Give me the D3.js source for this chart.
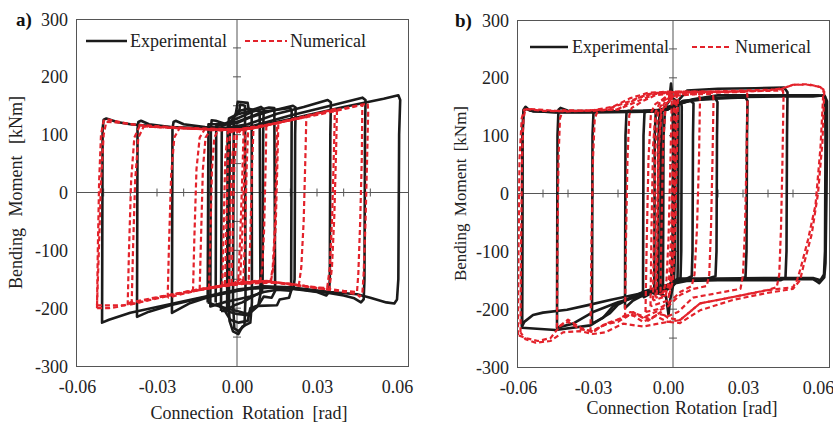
<!DOCTYPE html>
<html><head><meta charset="utf-8">
<script src="https://cdn.jsdelivr.net/npm/d3@7"></script>
<style>
html,body{margin:0;padding:0;background:#fff;}
svg{display:block;font-family:"Liberation Serif","Times New Roman",serif;}
</style></head><body>
<svg id="c" width="833" height="423"></svg>
<script>
// ---------- tick values / labels ----------
const xTicks = [-0.06, -0.03, 0, 0.03, 0.06];
const yTicks = [-300, -200, -100, 0, 100, 200, 300];
const xMinorTicks = [-0.05, -0.04, -0.03, -0.02, -0.01, 0.01, 0.02, 0.03, 0.04, 0.05];
const yMinorTicks = [-250, -200, -150, -100, -50, 50, 100, 150, 200, 250];
const panelLabels = ["a)", "b)"];
const legendLabels = ["Experimental", "Numerical"];
const xTitle = "Connection Rotation [rad]";
const yTitle = "Bending Moment [kNm]";

// ---------- panel a: experimental loops [rotation, moment] ----------
const expA = [
 [[-0.0015,-190],[-0.0012,130],[0.0008,140],[0.0012,152],[0.0030,150],[0.0032,-180],[0.0028,-230],[0.0005,-240],[-0.0010,-235],[-0.0015,-190]],
 [[-0.0030,-200],[-0.0027,120],[-0.0005,135],[0.0003,157],[0.0040,155],[0.0045,140],[0.0055,138],[0.0056,-190],[0.0050,-225],[0.0020,-232],[0.0005,-245],[-0.0015,-240],[-0.0028,-222],[-0.0030,-200]],
 [[-0.0060,-205],[-0.0057,115],[-0.0020,122],[0.0000,140],[0.0040,145],[0.0060,143],[0.0085,140],[0.0088,-175],[0.0080,-195],[0.0050,-200],[0.0040,-222],[0.0005,-225],[-0.0025,-220],[-0.0045,-205],[-0.0060,-205]],
 [[-0.0110,-190],[-0.0107,118],[-0.0050,118],[0.0000,128],[0.0060,140],[0.0120,147],[0.0140,146],[0.0143,-170],[0.0130,-182],[0.0100,-180],[0.0080,-195],[0.0040,-210],[0.0000,-205],[-0.0040,-200],[-0.0080,-195],[-0.0110,-190]],
 [[-0.0080,-190],[-0.0078,115],[0.0000,122],[0.0100,140],[0.0200,146],[0.0205,140],[0.0203,-170],[0.0195,-182],[0.0160,-185],[0.0150,-195],[0.0080,-196],[0.0040,-212],[0.0000,-210],[-0.0040,-205],[-0.0080,-192]],
 [[-0.0037,-200],[-0.0035,110],[-0.0030,128],[0.0000,135],[0.0040,140],[0.0090,148],[0.0100,144],[0.0098,100],[0.0096,-150],[0.0094,-170],[0.0080,-175],[0.0050,-182],[0.0020,-190],[-0.0010,-195],[-0.0037,-202],[-0.0037,-200]],
 [[-0.0100,-195],[-0.0098,110],[-0.0095,125],[-0.0080,124],[-0.0040,118],[0.0000,120],[0.0050,130],[0.0120,140],[0.0210,150],[0.0220,147],[0.0218,100],[0.0216,-150],[0.0212,-165],[0.0200,-170],[0.0150,-168],[0.0100,-172],[0.0050,-180],[0.0000,-185],[-0.0050,-190],[-0.0100,-197],[-0.0100,-195]],
 [[-0.0244,-207],[-0.0242,110],[-0.0238,122],[-0.0230,124],[-0.0200,118],[-0.0120,113],[-0.0040,112],[0.0040,118],[0.0150,136],[0.0250,148],[0.0340,160],[0.0352,156],[0.0350,100],[0.0348,-150],[0.0345,-172],[0.0335,-178],[0.0300,-172],[0.0200,-166],[0.0100,-163],[0.0000,-170],[-0.0100,-180],[-0.0180,-192],[-0.0244,-208],[-0.0244,-207]],
 [[-0.0375,-212],[-0.0373,110],[-0.0370,122],[-0.0360,124],[-0.0330,118],[-0.0250,113],[-0.0150,111],[-0.0050,110],[0.0050,114],[0.0200,133],[0.0350,150],[0.0470,164],[0.0482,160],[0.0480,100],[0.0478,-150],[0.0475,-185],[0.0465,-190],[0.0440,-183],[0.0400,-178],[0.0350,-174],[0.0250,-168],[0.0150,-164],[0.0050,-166],[-0.0050,-174],[-0.0150,-184],[-0.0250,-195],[-0.0330,-206],[-0.0375,-215],[-0.0375,-212]],
 [[-0.0506,-222],[-0.0504,110],[-0.0500,126],[-0.0490,128],[-0.0450,122],[-0.0400,118],[-0.0300,114],[-0.0200,112],[-0.0100,110],[0.0000,110],[0.0050,112],[0.0200,127],[0.0400,148],[0.0550,162],[0.0605,168],[0.0612,160],[0.0608,100],[0.0605,-150],[0.0600,-185],[0.0590,-192],[0.0560,-190],[0.0500,-182],[0.0450,-176],[0.0350,-172],[0.0200,-164],[0.0100,-162],[0.0000,-168],[-0.0100,-178],[-0.0200,-188],[-0.0300,-198],[-0.0400,-208],[-0.0480,-220],[-0.0506,-225],[-0.0506,-222]]
];

// ---------- panel a: numerical loops ----------
const numA = [
 [[-0.0020,-158],[-0.0016,-60],[-0.0010,50],[0.0000,100],[0.0015,108],[0.0025,110],[0.0020,30],[0.0012,-80],[0.0005,-150],[-0.0010,-157],[-0.0020,-158]],
 [[-0.0030,-158],[-0.0026,-60],[-0.0020,50],[-0.0010,100],[0.0010,108],[0.0032,110],[0.0027,30],[0.0019,-80],[0.0012,-150],[-0.0010,-157],[-0.0030,-158]],
 [[-0.0045,-160],[-0.0040,-60],[-0.0034,60],[-0.0025,104],[0.0000,108],[0.0030,110],[0.0042,112],[0.0036,40],[0.0030,-80],[0.0024,-150],[0.0000,-157],[-0.0045,-160]],
 [[-0.0055,-162],[-0.0050,-60],[-0.0044,60],[-0.0034,104],[0.0000,108],[0.0050,111],[0.0062,113],[0.0056,40],[0.0050,-80],[0.0044,-150],[0.0000,-157],[-0.0055,-162]],
 [[-0.0105,-166],[-0.0100,-80],[-0.0094,40],[-0.0085,95],[-0.0070,108],[-0.0030,108],[0.0020,109],[0.0070,112],[0.0110,116],[0.0108,60],[0.0102,-60],[0.0095,-130],[0.0088,-152],[0.0050,-154],[0.0000,-157],[-0.0050,-161],[-0.0105,-166]],
 [[-0.0140,-168],[-0.0135,-80],[-0.0128,40],[-0.0118,95],[-0.0100,108],[-0.0050,108],[0.0020,109],[0.0080,113],[0.0150,120],[0.0148,60],[0.0142,-60],[0.0134,-130],[0.0126,-153],[0.0080,-154],[0.0000,-157],[-0.0070,-163],[-0.0140,-168]],
 [[-0.0165,-171],[-0.0160,-80],[-0.0152,40],[-0.0140,95],[-0.0120,110],[-0.0060,108],[0.0020,109],[0.0100,115],[0.0155,121],[0.0152,60],[0.0145,-60],[0.0136,-130],[0.0128,-152],[0.0080,-154],[0.0000,-157],[-0.0080,-164],[-0.0165,-171]],
 [[-0.0260,-182],[-0.0255,-90],[-0.0247,30],[-0.0235,95],[-0.0215,112],[-0.0150,110],[-0.0050,108],[0.0050,110],[0.0150,120],[0.0260,131],[0.0257,70],[0.0250,-50],[0.0241,-130],[0.0232,-160],[0.0200,-158],[0.0100,-153],[0.0000,-157],[-0.0100,-164],[-0.0200,-175],[-0.0260,-182]],
 [[-0.0410,-195],[-0.0405,-100],[-0.0397,20],[-0.0385,95],[-0.0365,115],[-0.0300,113],[-0.0200,111],[-0.0100,109],[0.0000,108],[0.0100,115],[0.0250,130],[0.0367,144],[0.0364,80],[0.0357,-40],[0.0348,-130],[0.0338,-165],[0.0300,-165],[0.0200,-158],[0.0100,-153],[0.0000,-157],[-0.0150,-168],[-0.0300,-182],[-0.0410,-195]],
 [[-0.0395,-193],[-0.0390,-100],[-0.0382,20],[-0.0370,95],[-0.0350,114],[-0.0250,112],[-0.0100,109],[0.0050,110],[0.0200,126],[0.0375,145],[0.0372,80],[0.0365,-40],[0.0356,-130],[0.0346,-168],[0.0250,-162],[0.0100,-154],[-0.0100,-165],[-0.0250,-178],[-0.0395,-193]],
 [[-0.0525,-200],[-0.0522,-100],[-0.0517,20],[-0.0510,100],[-0.0500,124],[-0.0490,127],[-0.0450,123],[-0.0400,118],[-0.0300,114],[-0.0200,111],[-0.0100,109],[0.0000,108],[0.0050,110],[0.0100,115],[0.0200,125],[0.0300,134],[0.0400,144],[0.0490,154],[0.0492,140],[0.0488,60],[0.0482,-50],[0.0475,-140],[0.0470,-175],[0.0460,-180],[0.0450,-176],[0.0400,-172],[0.0300,-165],[0.0200,-158],[0.0100,-153],[0.0000,-157],[-0.0100,-164],[-0.0200,-173],[-0.0300,-182],[-0.0400,-192],[-0.0450,-198],[-0.0480,-200],[-0.0525,-200]],
 [[-0.0525,-195],[-0.0518,-100],[-0.0510,20],[-0.0500,100],[-0.0490,122],[-0.0450,121],[-0.0350,116],[-0.0200,112],[0.0000,109],[0.0150,120],[0.0300,136],[0.0470,152],[0.0468,60],[0.0462,-50],[0.0455,-140],[0.0450,-172],[0.0400,-170],[0.0300,-164],[0.0150,-156],[0.0000,-158],[-0.0150,-168],[-0.0300,-181],[-0.0400,-190],[-0.0420,-195],[-0.0525,-195]]
];

// ---------- panel b: experimental loops ----------
const expB = [
 [[-0.0020,-165],[-0.0018,100],[-0.0012,145],[0.0000,150],[0.0018,152],[0.0020,100],[0.0018,-100],[0.0012,-155],[0.0000,-165],[-0.0020,-165]],
 [[-0.0030,-168],[-0.0028,100],[-0.0024,142],[0.0000,148],[0.0028,155],[0.0030,100],[0.0028,-100],[0.0024,-152],[0.0000,-163],[-0.0030,-168]],
 [[-0.0040,-172],[-0.0038,100],[-0.0034,140],[-0.0020,145],[0.0005,160],[0.0012,190],[0.0018,165],[0.0040,158],[0.0042,150],[0.0040,-100],[0.0038,-150],[0.0020,-160],[0.0008,-185],[0.0002,-210],[-0.0008,-178],[-0.0040,-172]],
 [[-0.0055,-175],[-0.0053,100],[-0.0049,140],[-0.0020,144],[0.0010,150],[0.0052,158],[0.0055,150],[0.0053,-100],[0.0050,-148],[0.0020,-155],[0.0000,-165],[-0.0055,-175]],
 [[-0.0100,-180],[-0.0098,100],[-0.0094,140],[-0.0080,142],[-0.0040,143],[0.0000,146],[0.0040,155],[0.0090,160],[0.0102,156],[0.0100,100],[0.0098,-100],[0.0095,-143],[0.0070,-148],[0.0030,-152],[0.0000,-160],[-0.0040,-166],[-0.0100,-180]],
 [[-0.0172,-195],[-0.0170,100],[-0.0166,140],[-0.0160,143],[-0.0100,142],[-0.0030,143],[0.0020,152],[0.0080,160],[0.0150,163],[0.0190,164],[0.0198,158],[0.0196,100],[0.0194,-100],[0.0190,-143],[0.0160,-147],[0.0080,-150],[0.0030,-152],[0.0000,-160],[-0.0050,-168],[-0.0100,-176],[-0.0140,-185],[-0.0172,-198],[-0.0172,-195]],
 [[-0.0304,-222],[-0.0302,100],[-0.0298,140],[-0.0290,144],[-0.0250,142],[-0.0150,142],[-0.0050,143],[0.0020,150],[0.0060,160],[0.0150,163],[0.0250,165],[0.0310,166],[0.0318,160],[0.0316,100],[0.0314,-100],[0.0310,-145],[0.0280,-148],[0.0150,-149],[0.0050,-150],[0.0000,-158],[-0.0080,-168],[-0.0150,-180],[-0.0220,-195],[-0.0260,-215],[-0.0304,-225],[-0.0304,-222]],
 [[-0.0444,-225],[-0.0442,100],[-0.0438,145],[-0.0430,148],[-0.0400,143],[-0.0300,142],[-0.0200,142],[-0.0100,143],[0.0000,145],[0.0040,160],[0.0076,178],[0.0200,181],[0.0350,182],[0.0465,183],[0.0478,175],[0.0476,100],[0.0474,-100],[0.0470,-145],[0.0450,-150],[0.0350,-150],[0.0200,-150],[0.0080,-151],[0.0030,-155],[0.0000,-165],[-0.0100,-176],[-0.0200,-188],[-0.0300,-205],[-0.0380,-225],[-0.0444,-232],[-0.0444,-225]],
 [[-0.0584,-230],[-0.0582,100],[-0.0578,145],[-0.0570,150],[-0.0560,146],[-0.0540,142],[-0.0450,141],[-0.0350,141],[-0.0250,142],[-0.0150,142],[-0.0050,143],[0.0020,148],[0.0060,160],[0.0150,165],[0.0300,167],[0.0450,168],[0.0580,168],[0.0625,170],[0.0636,160],[0.0636,100],[0.0634,0],[0.0630,-120],[0.0625,-145],[0.0605,-155],[0.0595,-152],[0.0580,-148],[0.0450,-148],[0.0300,-148],[0.0150,-149],[0.0050,-150],[0.0000,-161],[-0.0100,-172],[-0.0232,-184],[-0.0320,-193],[-0.0404,-201],[-0.0500,-206],[-0.0540,-210],[-0.0575,-222],[-0.0584,-230]],
 [[-0.0584,-226],[-0.0582,100],[-0.0578,142],[-0.0568,147],[-0.0550,143],[-0.0450,140],[-0.0300,140],[-0.0150,141],[-0.0030,142],[0.0030,152],[0.0100,163],[0.0200,170],[0.0350,170],[0.0500,170],[0.0600,170],[0.0628,168],[0.0630,100],[0.0628,-100],[0.0624,-140],[0.0610,-150],[0.0580,-146],[0.0400,-146],[0.0200,-147],[0.0040,-147],[0.0000,-158],[-0.0100,-170],[-0.0200,-192],[-0.0232,-207],[-0.0310,-228],[-0.0450,-236],[-0.0584,-232],[-0.0584,-226]]
];

// ---------- panel b: numerical loops ----------
const numB = [
 [[-0.0030,-170],[-0.0026,-60],[-0.0020,80],[-0.0010,150],[0.0000,160],[0.0020,165],[0.0030,160],[0.0025,60],[0.0018,-80],[0.0010,-150],[0.0000,-168],[-0.0030,-170]],
 [[-0.0045,-175],[-0.0042,-60],[-0.0036,80],[-0.0026,140],[-0.0010,155],[0.0015,162],[0.0010,60],[0.0002,-80],[-0.0006,-150],[-0.0020,-172],[-0.0045,-175]],
 [[-0.0050,-180],[-0.0045,-60],[-0.0038,80],[-0.0028,145],[-0.0010,160],[0.0010,168],[0.0040,170],[0.0035,60],[0.0028,-80],[0.0020,-150],[0.0005,-175],[-0.0050,-180]],
 [[-0.0060,-185],[-0.0056,-60],[-0.0050,80],[-0.0040,140],[-0.0020,160],[0.0000,165],[0.0025,168],[0.0020,60],[0.0012,-80],[0.0004,-150],[-0.0010,-178],[-0.0060,-185]],
 [[-0.0070,-195],[-0.0066,-60],[-0.0060,80],[-0.0050,140],[-0.0030,160],[0.0000,170],[0.0035,172],[0.0030,60],[0.0022,-80],[0.0014,-150],[0.0000,-185],[-0.0070,-195]],
 [[-0.0090,-205],[-0.0085,-80],[-0.0078,60],[-0.0068,140],[-0.0050,155],[0.0000,168],[0.0060,170],[0.0120,172],[0.0128,165],[0.0124,60],[0.0116,-60],[0.0106,-140],[0.0095,-160],[0.0050,-170],[0.0000,-190],[-0.0040,-200],[-0.0090,-205]],
 [[-0.0172,-215],[-0.0168,-80],[-0.0162,60],[-0.0155,135],[-0.0145,148],[-0.0100,160],[-0.0050,170],[0.0000,172],[0.0080,172],[0.0180,172],[0.0182,160],[0.0178,60],[0.0172,-60],[0.0165,-140],[0.0155,-160],[0.0100,-165],[0.0050,-175],[0.0000,-195],[-0.0050,-205],[-0.0100,-215],[-0.0140,-205],[-0.0172,-215]],
 [[-0.0310,-240],[-0.0306,-80],[-0.0300,60],[-0.0293,130],[-0.0280,144],[-0.0200,145],[-0.0120,160],[-0.0050,172],[0.0020,175],[0.0150,174],[0.0250,175],[0.0316,176],[0.0318,165],[0.0314,60],[0.0308,-60],[0.0300,-140],[0.0290,-165],[0.0200,-172],[0.0100,-180],[0.0040,-205],[0.0000,-212],[-0.0040,-208],[-0.0080,-220],[-0.0120,-210],[-0.0170,-212],[-0.0220,-222],[-0.0270,-230],[-0.0310,-240]],
 [[-0.0444,-232],[-0.0442,-80],[-0.0438,60],[-0.0432,130],[-0.0420,144],[-0.0300,143],[-0.0200,146],[-0.0120,165],[-0.0050,174],[0.0050,176],[0.0200,176],[0.0350,177],[0.0460,178],[0.0462,165],[0.0458,60],[0.0452,-60],[0.0445,-140],[0.0435,-162],[0.0396,-167],[0.0260,-179],[0.0128,-190],[0.0048,-219],[0.0000,-222],[-0.0050,-212],[-0.0100,-222],[-0.0150,-208],[-0.0200,-222],[-0.0250,-226],[-0.0300,-238],[-0.0350,-235],[-0.0400,-222],[-0.0444,-232]],
 [[-0.0600,-245],[-0.0598,-100],[-0.0594,60],[-0.0585,130],[-0.0575,145],[-0.0550,146],[-0.0450,143],[-0.0350,143],[-0.0250,145],[-0.0150,160],[-0.0080,172],[0.0000,175],[0.0100,175],[0.0250,176],[0.0400,178],[0.0460,182],[0.0500,188],[0.0560,188],[0.0600,185],[0.0622,180],[0.0610,80],[0.0590,-20],[0.0560,-80],[0.0530,-130],[0.0516,-150],[0.0500,-162],[0.0400,-167],[0.0260,-179],[0.0128,-190],[0.0048,-219],[0.0000,-215],[-0.0030,-205],[-0.0070,-218],[-0.0100,-212],[-0.0150,-205],[-0.0200,-218],[-0.0250,-225],[-0.0300,-240],[-0.0350,-232],[-0.0400,-218],[-0.0430,-228],[-0.0470,-250],[-0.0520,-255],[-0.0570,-250],[-0.0600,-245]],
 [[-0.0590,-240],[-0.0588,-100],[-0.0584,60],[-0.0578,130],[-0.0570,146],[-0.0500,143],[-0.0400,142],[-0.0300,144],[-0.0220,150],[-0.0150,165],[-0.0080,174],[0.0000,176],[0.0150,176],[0.0300,178],[0.0450,180],[0.0500,188],[0.0560,189],[0.0610,184],[0.0625,176],[0.0618,90],[0.0600,0],[0.0575,-70],[0.0545,-120],[0.0528,-150],[0.0500,-165],[0.0396,-172],[0.0260,-184],[0.0128,-202],[0.0048,-224],[0.0000,-222],[-0.0050,-226],[-0.0100,-230],[-0.0180,-225],[-0.0250,-240],[-0.0300,-243],[-0.0350,-238],[-0.0420,-240],[-0.0470,-255],[-0.0530,-258],[-0.0570,-252],[-0.0590,-240]]
];

// ---------- drawing ----------
const svg = d3.select("#c");
const BLACK = "#1b1b1b", RED = "#e3222b", AXIS = "#555";

const panels = [
  { key: "a", exp: expA, num: numA,
    x: d3.scaleLinear().domain([-0.06, 0.0645]).range([77, 409]),
    y: d3.scaleLinear().domain([-300, 300]).range([366, 19]),
    vAxisAt: 0,
    label: { x: 16, y: 26 },
    yTitle: { x: 22, ws: 7, fs: 18 },
    xTitle: { y: 419, ws: 4, fs: 18, dx: 6 },
    legend: { y: 41, bx0: 86, bx1: 127, bt: 130, rx0: 245, rx1: 287, rt: 290 } },
  { key: "b", exp: expB, num: numB,
    x: d3.scaleLinear().domain([-0.06, 0.0648]).range([518, 830]),
    y: d3.scaleLinear().domain([-300, 300]).range([367, 20]),
    vAxisAt: 0.002,
    label: { x: 455, y: 27 },
    yTitle: { x: 466, ws: 3, fs: 17 },
    xTitle: { y: 414, ws: 1, fs: 18, dx: 8 },
    legend: { y: 47, bx0: 530, bx1: 568, bt: 572, rx0: 692, rx1: 732, rt: 735 } }
];

panels.forEach((p, i) => {
  const g = svg.append("g");
  const [x0, x1] = p.x.range();
  const [y0, y1] = p.y.range();

  g.append("rect").attr("x", x0 - 0.5).attr("y", y1 + 0.5).attr("width", x1 - x0)
    .attr("height", y0 - y1).attr("fill", "none").attr("stroke", AXIS).attr("stroke-width", 1);

  const zy = p.y(0), zx = p.x(p.vAxisAt);
  g.append("line").attr("x1", x0).attr("x2", x1).attr("y1", zy).attr("y2", zy)
    .attr("stroke", AXIS).attr("stroke-width", 1);
  g.append("line").attr("x1", zx).attr("x2", zx).attr("y1", y1).attr("y2", y0)
    .attr("stroke", AXIS).attr("stroke-width", 1);
  g.selectAll(".xm").data(xMinorTicks).join("line")
    .attr("x1", d => p.x(d)).attr("x2", d => p.x(d)).attr("y1", zy - 4).attr("y2", zy + 4)
    .attr("stroke", AXIS).attr("stroke-width", 1);
  g.selectAll(".ym").data(yMinorTicks).join("line")
    .attr("x1", zx - 4).attr("x2", zx + 4).attr("y1", d => p.y(d)).attr("y2", d => p.y(d))
    .attr("stroke", AXIS).attr("stroke-width", 1);

  const ax = g.append("g").attr("transform", `translate(0,${y0})`)
    .call(d3.axisBottom(p.x).tickValues(xTicks).tickSize(0).tickPadding(0).tickFormat(d => d.toFixed(2)));
  ax.select(".domain").remove();
  ax.selectAll("text").attr("y", 0).attr("dy", 27).attr("fill", "#222")
    .attr("font-size", 18).attr("font-family", "Liberation Serif, serif");

  const ay = g.append("g").attr("transform", `translate(${x0},0)`)
    .call(d3.axisLeft(p.y).tickValues(yTicks).tickSize(0).tickPadding(9).tickFormat(d => String(d)));
  ay.select(".domain").remove();
  ay.selectAll("text").attr("dy", "0.34em").attr("fill", "#222")
    .attr("font-size", 18).attr("font-family", "Liberation Serif, serif");

  const line = d3.line().x(d => p.x(d[0])).y(d => p.y(d[1]));
  const clip = "clip" + p.key;
  svg.append("clipPath").attr("id", clip).append("rect")
    .attr("x", x0).attr("y", y1).attr("width", x1 - x0).attr("height", y0 - y1);
  const dg = g.append("g").attr("clip-path", `url(#${clip})`);
  dg.selectAll(".exp").data(p.exp).join("path")
    .attr("d", line).attr("fill", "none").attr("stroke", BLACK)
    .attr("stroke-width", 2.6).attr("stroke-linejoin", "round");
  dg.selectAll(".num").data(p.num).join("path")
    .attr("d", line).attr("fill", "none").attr("stroke", RED)
    .attr("stroke-width", 2.2).attr("stroke-dasharray", "5,3").attr("stroke-linejoin", "round");

  const L = p.legend;
  g.append("line").attr("x1", L.bx0).attr("x2", L.bx1).attr("y1", L.y).attr("y2", L.y)
    .attr("stroke", BLACK).attr("stroke-width", 2.4);
  g.append("text").attr("x", L.bt).attr("y", L.y + 6).attr("font-size", 18).attr("fill", "#222")
    .text(legendLabels[0]);
  g.append("line").attr("x1", L.rx0).attr("x2", L.rx1).attr("y1", L.y).attr("y2", L.y)
    .attr("stroke", RED).attr("stroke-width", 2.2).attr("stroke-dasharray", "5,3");
  g.append("text").attr("x", L.rt).attr("y", L.y + 6).attr("font-size", 18).attr("fill", "#222")
    .text(legendLabels[1]);

  g.append("text").attr("x", p.label.x).attr("y", p.label.y).attr("font-size", 19)
    .attr("font-weight", "bold").attr("fill", "#111").text(panelLabels[i]);

  g.append("text").attr("x", (x0 + x1) / 2 + p.xTitle.dx).attr("y", p.xTitle.y)
    .attr("text-anchor", "middle").attr("font-size", p.xTitle.fs)
    .attr("word-spacing", p.xTitle.ws).attr("fill", "#222").text(xTitle);
  g.append("text").attr("transform", `translate(${p.yTitle.x},${(y0 + y1) / 2}) rotate(-90)`)
    .attr("text-anchor", "middle").attr("font-size", p.yTitle.fs)
    .attr("word-spacing", p.yTitle.ws).attr("fill", "#222").text(yTitle);
});
</script>
</body></html>
